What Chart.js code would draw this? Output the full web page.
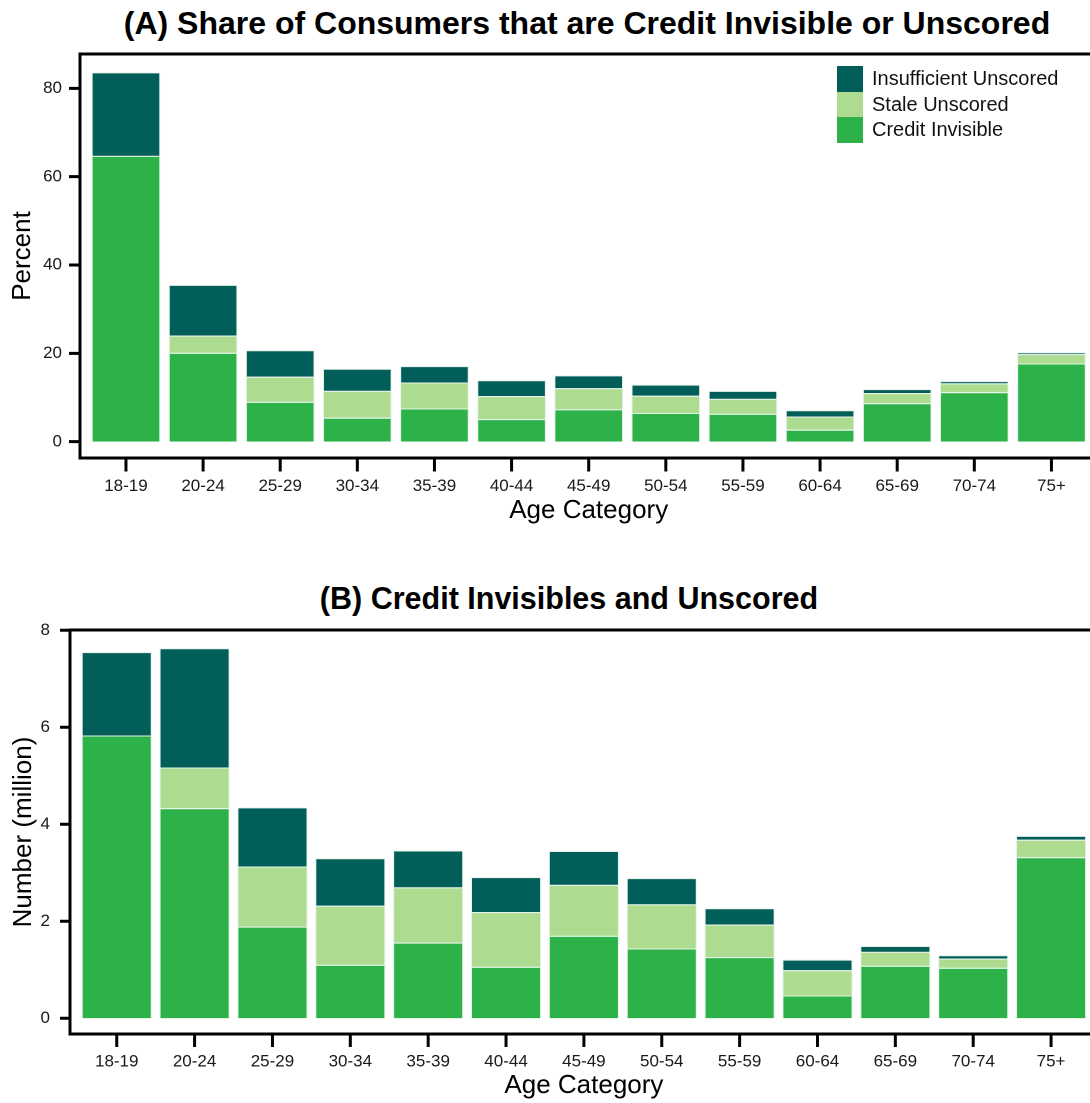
<!DOCTYPE html>
<html>
<head>
<meta charset="utf-8">
<script src="https://cdn.jsdelivr.net/npm/chart.js@4.4.1/dist/chart.umd.min.js"></script>
<style>
  html, body { margin: 0; padding: 0; background: #fff; }
  #wrap { position: relative; width: 1090px; height: 1103px; overflow: hidden; font-family: "Liberation Sans", Arial, Helvetica, sans-serif; }
  canvas { position: absolute; left: 0; }
  .title { position: absolute; font-weight: bold; font-size: 32px; line-height: 32px; white-space: nowrap; color: #000; transform: translateX(-50%); }
  #legend { position: absolute; left: 837px; top: 66px; }
  .lg-row { display: flex; align-items: center; height: 25.5px; }
  .lg-sw { width: 26px; height: 25.5px; }
  .lg-tx { margin-left: 9px; font-size: 20px; line-height: 25.5px; color: #111; white-space: nowrap; }
</style>
</head>
<body>
<div id="wrap">
  <div class="title" id="titleA" style="left:587px; top:7px;">(A) Share of Consumers that are Credit Invisible or Unscored</div>
  <canvas id="chartA" width="1090" height="545" style="top:0;"></canvas>
  <div id="legend"></div>
  <div class="title" id="titleB" style="left:569px; top:582px; font-size:30.5px;">(B) Credit Invisibles and Unscored</div>
  <canvas id="chartB" width="1090" height="558" style="top:545px;"></canvas>
</div>
<script>
// ---------- data ----------
const AGE_LABELS = ['18-19','20-24','25-29','30-34','35-39','40-44','45-49','50-54','55-59','60-64','65-69','70-74','75+'];
const SERIES_NAMES = ['Credit Invisible', 'Stale Unscored', 'Insufficient Unscored'];

// Panel A: percent of consumers
const CREDIT_INVISIBLE_PCT = [64.7, 20.1, 9.0, 5.4, 7.5, 5.1, 7.3, 6.5, 6.3, 2.7, 8.7, 11.2, 17.7];
const STALE_UNSCORED_PCT   = [0.0, 3.9, 5.7, 6.1, 5.9, 5.2, 4.8, 3.9, 3.4, 3.0, 2.3, 2.0, 2.1];
const INSUFF_UNSCORED_PCT  = [18.9, 11.5, 6.0, 5.0, 3.7, 3.6, 2.9, 2.5, 1.8, 1.4, 0.9, 0.5, 0.4];
const Y_TICKS_A = [0, 20, 40, 60, 80];

// Panel B: number of consumers (million)
const CREDIT_INVISIBLE_MIL = [5.83, 4.33, 1.89, 1.10, 1.56, 1.06, 1.70, 1.44, 1.26, 0.47, 1.08, 1.04, 3.32];
const STALE_UNSCORED_MIL   = [0.00, 0.84, 1.24, 1.22, 1.14, 1.13, 1.05, 0.91, 0.67, 0.52, 0.29, 0.19, 0.36];
const INSUFF_UNSCORED_MIL  = [1.72, 2.46, 1.22, 0.98, 0.76, 0.72, 0.70, 0.54, 0.34, 0.22, 0.12, 0.07, 0.08];
const Y_TICKS_B = [0, 2, 4, 6, 8];

// ---------- styles ----------
const COLORS = ['#2DB24A', '#ADDC91', '#025E59'];
const FONT = '"Liberation Sans", Arial, Helvetica, sans-serif';
Chart.defaults.font.family = FONT;
Chart.defaults.color = '#1a1a1a';

const framePlugin = {
  id: 'frame',
  afterDraw(chart, args, o) {
    const ctx = chart.ctx, a = chart.chartArea;
    const x = chart.scales.x, y = chart.scales.y;
    const L = a.left - o.gap;
    ctx.save();
    ctx.strokeStyle = '#000';
    ctx.lineWidth = 3;
    ctx.lineJoin = 'miter';
    ctx.beginPath();
    ctx.moveTo(chart.width + 2, a.top);
    ctx.lineTo(L, a.top);
    ctx.lineTo(L, a.bottom);
    ctx.lineTo(chart.width + 2, a.bottom);
    ctx.stroke();
    ctx.beginPath();
    y.ticks.forEach(t => {
      const py = y.getPixelForValue(t.value);
      ctx.moveTo(L - o.yTick, py); ctx.lineTo(L, py);
    });
    x.ticks.forEach((t, i) => {
      const px = x.getPixelForTick(i);
      ctx.moveTo(px, a.bottom); ctx.lineTo(px, a.bottom + o.xTick);
    });
    ctx.stroke();
    ctx.restore();
  }
};

function buildDatasets(ci, stale, insuf, barPct) {
  return [ci, stale, insuf].map((data, i) => ({
    label: SERIES_NAMES[i],
    data: data,
    backgroundColor: COLORS[i],
    borderColor: 'rgba(225,242,228,0.9)',
    borderWidth: 1,
    borderSkipped: 'bottom',
    barPercentage: barPct,
    categoryPercentage: 1.0,
    stack: 's'
  }));
}

function makeChart(id, p) {
  return new Chart(document.getElementById(id), {
    type: 'bar',
    data: { labels: AGE_LABELS, datasets: buildDatasets(p.ci, p.stale, p.insuf, p.barPct) },
    plugins: [framePlugin],
    options: {
      responsive: false,
      animation: false,
      devicePixelRatio: 2,
      layout: { padding: { top: p.padTop, right: 0, left: 0, bottom: 0 } },
      plugins: {
        legend: { display: false },
        tooltip: { enabled: false },
        frame: { gap: p.gap, yTick: p.yTick, xTick: p.xTick }
      },
      scales: {
        x: {
          stacked: true,
          offset: true,
          grid: { display: false, drawTicks: false },
          border: { display: false },
          ticks: { font: { size: 17 }, padding: p.xLabelPad, maxRotation: 0, autoSkip: false },
          title: { display: true, text: 'Age Category', font: { size: 26 }, color: '#000', padding: { top: 0, bottom: p.xTitlePad } },
          afterFit: s => { s.height = p.xAxisH; }
        },
        y: {
          stacked: true,
          min: p.yMin,
          max: p.yMax,
          grid: { display: false, drawTicks: false },
          border: { display: false },
          ticks: { font: { size: 17 }, padding: p.yLabelPad, includeBounds: false },
          afterBuildTicks: s => { s.ticks = p.yTicks.map(v => ({ value: v })); },
          title: { display: true, text: p.yTitle, font: { size: 26 }, color: '#000', padding: { top: p.yTitlePad, bottom: 0 } },
          afterFit: s => { s.width = p.yAxisW; }
        }
      }
    }
  });
}

makeChart('chartA', {
  ci: CREDIT_INVISIBLE_PCT, stale: STALE_UNSCORED_PCT, insuf: INSUFF_UNSCORED_PCT,
  barPct: 0.89, padTop: 54, gap: 7.4, yTick: 11, xTick: 13.5,
  xLabelPad: 18, xTitlePad: 18.4, xAxisH: 87,
  yMin: -3.7, yMax: 87.77, yTicks: Y_TICKS_A, yLabelPad: 25.4,
  yTitle: 'Percent', yTitlePad: 7.4, yAxisW: 87.4
});

makeChart('chartB', {
  ci: CREDIT_INVISIBLE_MIL, stale: STALE_UNSCORED_MIL, insuf: INSUFF_UNSCORED_MIL,
  barPct: 0.9, padTop: 85, gap: 7.8, yTick: 10, xTick: 13,
  xLabelPad: 17.5, xTitlePad: 1.4, xAxisH: 69,
  yMin: -0.324, yMax: 8.006, yTicks: Y_TICKS_B, yLabelPad: 27.8,
  yTitle: 'Number (million)', yTitlePad: 8.4, yAxisW: 77.8
});

// ---------- legend (top entry first, as in the reference) ----------
const legend = document.getElementById('legend');
[2, 1, 0].forEach(i => {
  const row = document.createElement('div');
  row.className = 'lg-row';
  const sw = document.createElement('div');
  sw.className = 'lg-sw';
  sw.style.background = COLORS[i];
  const tx = document.createElement('div');
  tx.className = 'lg-tx';
  tx.textContent = SERIES_NAMES[i];
  row.appendChild(sw); row.appendChild(tx);
  legend.appendChild(row);
});
</script>
</body>
</html>
